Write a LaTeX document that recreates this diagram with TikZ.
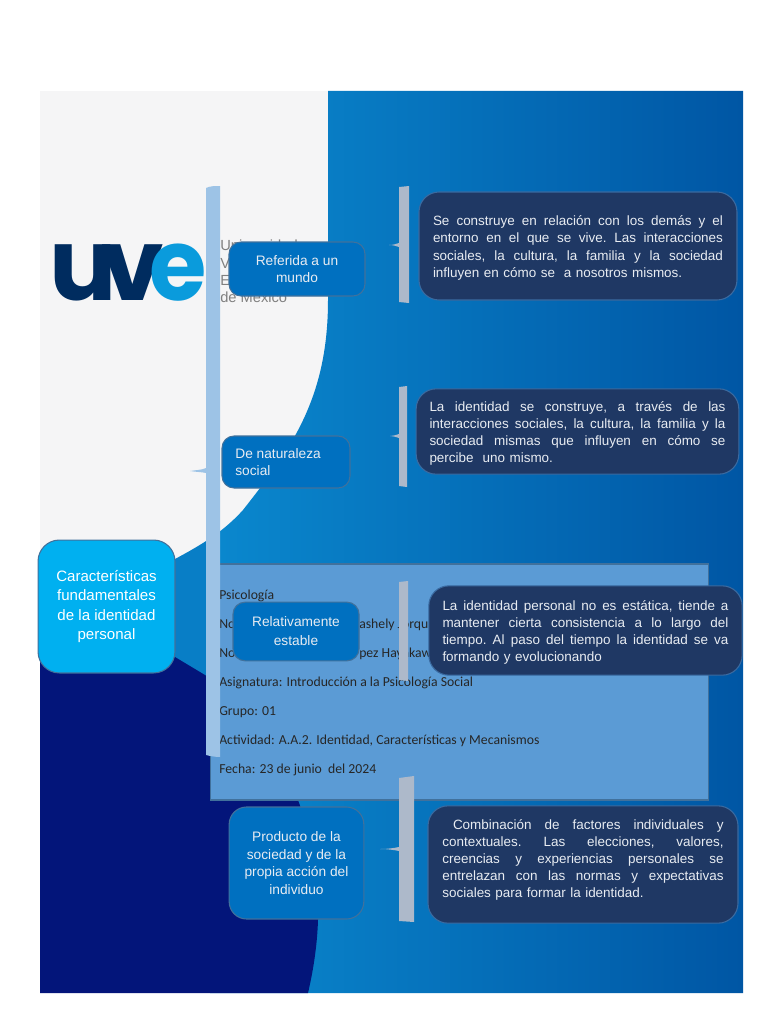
\documentclass[tikz,border=0pt]{standalone}
\usepackage{fontspec}
\setmainfont{Liberation Sans}
\newfontfamily\carl{Carlito}
\newfontfamily\logof{Poppins}
\definecolor{panel}{HTML}{F5F5F6}
\definecolor{navyb}{HTML}{03157A}
\definecolor{bluel}{HTML}{0A88CE}
\definecolor{bluer}{HTML}{0056A4}
\definecolor{rectf}{HTML}{5B9BD5}
\definecolor{rectb}{HTML}{41719C}
\definecolor{cyanb}{HTML}{00B0F0}
\definecolor{midb}{HTML}{0070C0}
\definecolor{darkb}{HTML}{1F3864}
\definecolor{darkl}{HTML}{3A6AA0}
\definecolor{barl}{HTML}{9DC3E6}
\definecolor{barg}{HTML}{ADB9CA}
\definecolor{txtl}{HTML}{E8ECF2}
\definecolor{logon}{HTML}{002C5F}
\definecolor{logoc}{HTML}{0A9BDC}
\tikzset{
 midbox/.style={draw=rectb,line width=0.8pt,fill=midb,rounded corners=9pt,text=txtl,inner sep=0pt,align=center,font=\fontsize{10.3}{13.1}\selectfont},
 darkbox/.style={draw=darkl,line width=0.8pt,fill=darkb,rounded corners=15pt,text=txtl,inner sep=0pt,font=\fontsize{10.1}{12.9}\selectfont\frenchspacing},
 inf/.style={anchor=base west,inner sep=0pt,font=\carl\fontsize{10.3}{12}\selectfont,text=black!85},
 logol/.style={anchor=base west,inner sep=0pt,font=\logof\bfseries\fontsize{75}{75}\selectfont},
}
\newcommand{\jl}[2]{\hbox to #1pt{\spaceskip=.278em plus 1fil\relax #2}}
\newcommand{\lastl}[1]{\hbox{#1}}
\begin{document}
\begin{tikzpicture}[x=0.75pt,y=-0.75pt]
\useasboundingbox (0,0) rectangle (768,1024);
\fill[white] (0,0) rectangle (768,1024);
\fill[panel] (40,91) rectangle (743,993);
% blue field
\begin{scope}
\clip (328,91) -- (328,300) .. controls (328,400) and (290,450) .. (243,510) .. controls (225,530) and (205,543) .. (175,559) -- (100,600) -- (40,700) -- (40,993) -- (743,993) -- (743,91) -- cycle;
\fill[bluel!80!bluer] (40,540) rectangle (210,700);
\shade[left color=bluel,right color=bluer] (210,91) rectangle (743,993);
\end{scope}
% navy field
\fill[navyb] (40,576) -- (205,675) .. controls (250,710) and (285,760) .. (298,800) .. controls (320,860) and (325,920) .. (308,993) -- (40,993) -- cycle;
% logo
\node[logol,text=logon] (logou) at (49,300.5) {u};
\node[logol,text=logon] (logov) at (101,300.5) {v};
\node[logol,text=logoc,xscale=0.93] (logoe) at (149,300.5) {e};
\node[anchor=north west,inner sep=0pt,align=left,text=black!50,font=\fontsize{11}{12.9}\selectfont] (uni) at (220,240) {Universidad\\Virtual del\\Estado\\de México};
% info rectangle
\node[draw=rectb,line width=0.9pt,fill=rectf,minimum width=374pt,minimum height=177pt,inner sep=0pt] (info) at (459.5,682) {};
\node[inf] (t1) at (219,599) {Psicología};
\node[inf] (t2) at (219,628) {No};
\node[inf] (t2b) at (359,628) {ashely Jorqu};
\node[inf] (t3) at (219,657) {No};
\node[inf] (t3b) at (359,657) {pez Hayakawa};
\node[inf] (t4) at (219,686) {Asignatura: Introducción a la Psicología Social};
\node[inf] (t5) at (219,715) {Grupo: 01};
\node[inf] (t6) at (219,744) {Actividad: A.A.2. Identidad, Características y Mecanismos};
\node[inf] (t7) at (219,773) {Fecha: 23 de junio\ \ del 2024};
% brace bars
\fill[barl] (206,188) .. controls (210,186) and (215,186) .. (220,186) -- (220,757) .. controls (215,757) and (210,756) .. (206,755) -- (206,473) .. controls (202,472) and (196,472) .. (190,471) .. controls (196,470) and (202,470) .. (206,468) -- cycle;
\fill[barg] (399,187) -- (409,186) -- (409,303) -- (399,302) -- (399,247) .. controls (396,246) and (393,245) .. (389,245) .. controls (393,245) and (396,244) .. (399,243) -- cycle;
\fill[barg] (399,387) -- (407,386) -- (407,487) -- (399,486) -- (399,438) .. controls (396,437) and (393,436) .. (390,436) .. controls (393,436) and (396,435) .. (399,434) -- cycle;
\fill[barg] (399,582) -- (408,581) -- (408,681) -- (399,680) -- cycle;
\fill[barg] (399,778) -- (414,776) -- (414,922) -- (399,921) -- (399,851) .. controls (394,850) and (388,849) .. (380,849) .. controls (388,849) and (394,848) .. (399,847) -- cycle;
% boxes
\node[midbox,draw=rectb,fill=cyanb,text=white,rounded corners=16pt,minimum width=102.7pt,minimum height=99.7pt,font=\fontsize{11.3}{14.3}\selectfont] (main) at (106.5,606.5) {Características\\fundamentales\\de la identidad\\personal};
\node[midbox,minimum width=102pt,minimum height=40.5pt] (b1) at (297,269) {Referida a un\\mundo};
\node[midbox,minimum width=96pt,minimum height=39pt,align=left] (b2) at (286,462) {\hbox to 76pt{De naturaleza\hfil}\\\hbox to 76pt{social\hfil}};
\node[midbox,minimum width=94.5pt,minimum height=44pt,font=\fontsize{10.3}{14.3}\selectfont] (b3) at (296,631.5) {Relativamente\\estable};
\node[midbox,minimum width=101pt,minimum height=84pt,rounded corners=13pt] (b4) at (296.5,863) {Producto de la\\sociedad y de la\\propia acción del\\individuo};
\node[darkbox,minimum width=238.5pt,minimum height=81pt,text width=217.5pt] (d1) at (578,246) {\vbox{\vskip3pt\jl{217.5}{Se construye en relación con los demás y el}\jl{217.5}{entorno en el que se vive. Las interacciones}\jl{217.5}{sociales, la cultura, la familia y la sociedad}\lastl{influyen en cómo se\ \ a nosotros mismos.}}};
\node[darkbox,minimum width=242pt,minimum height=64pt,text width=222pt] (d2) at (577.5,431.5) {\vbox{\vskip3pt\jl{222}{La identidad se construye, a través de las}\jl{222}{interacciones sociales, la cultura, la familia y la}\jl{222}{sociedad mismas que influyen en cómo se}\lastl{percibe\ \ uno mismo.}}};
\node[darkbox,minimum width=235pt,minimum height=67pt,text width=214.5pt] (d3) at (585.5,630.5) {\vbox{\vskip3pt\jl{214.5}{La identidad personal no es estática, tiende a}\jl{214.5}{mantener cierta consistencia a lo largo del}\jl{214.5}{tiempo. Al paso del tiempo la identidad se va}\lastl{formando y evolucionando}}};
\node[darkbox,minimum width=232.5pt,minimum height=88pt,text width=211pt] (d4) at (583,864.5) {\vbox{\jl{211}{\hspace{8pt}Combinación de factores individuales y}\jl{211}{contextuales. Las elecciones, valores,}\jl{211}{creencias y experiencias personales se}\jl{211}{entrelazan con las normas y expectativas}\lastl{sociales para formar la identidad.}\vspace{7pt}}};
\end{tikzpicture}
\end{document}
